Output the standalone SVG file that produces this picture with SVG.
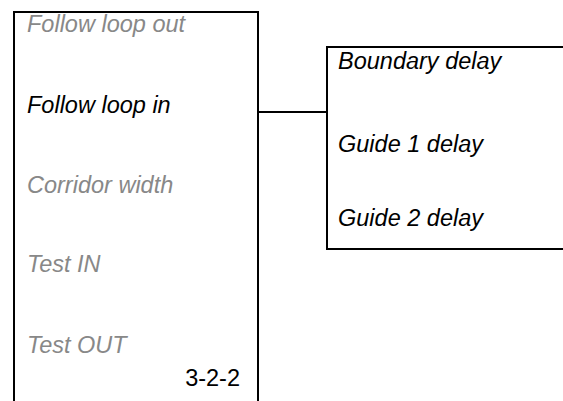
<svg xmlns="http://www.w3.org/2000/svg" width="563" height="401" viewBox="0 0 563 401">
<style>
.box{fill:none;stroke:#000;stroke-width:2}
.t{font-family:"Liberation Sans",Arial,sans-serif;font-size:23.5px;font-style:italic}
.g{fill:#888}
.k{fill:#000}
.n{font-family:"Liberation Sans",Arial,sans-serif;font-size:23.5px;fill:#000}
</style>
<rect width="563" height="401" fill="#fff"/>
<g id="menu-main">
<path class="box" d="M14,402 V12 H258 V402"/>
<text class="t g" x="27" y="32">Follow loop out</text>
<text class="t k" x="27" y="113">Follow loop in</text>
<text class="t g" x="27" y="193">Corridor width</text>
<text class="t g" x="27" y="272">Test IN</text>
<text class="t g" x="27" y="353">Test OUT</text>
<text class="n" x="240" y="386" text-anchor="end">3-2-2</text>
</g>
<g id="menu-sub">
<path class="box" d="M565,47 H327 V249 H565"/>
<text class="t k" x="338" y="69">Boundary delay</text>
<text class="t k" x="338" y="152">Guide 1 delay</text>
<text class="t k" x="338" y="226">Guide 2 delay</text>
</g>
<g id="connectors">
<line class="box" x1="258" y1="112" x2="327" y2="112"/>
</g>
</svg>
